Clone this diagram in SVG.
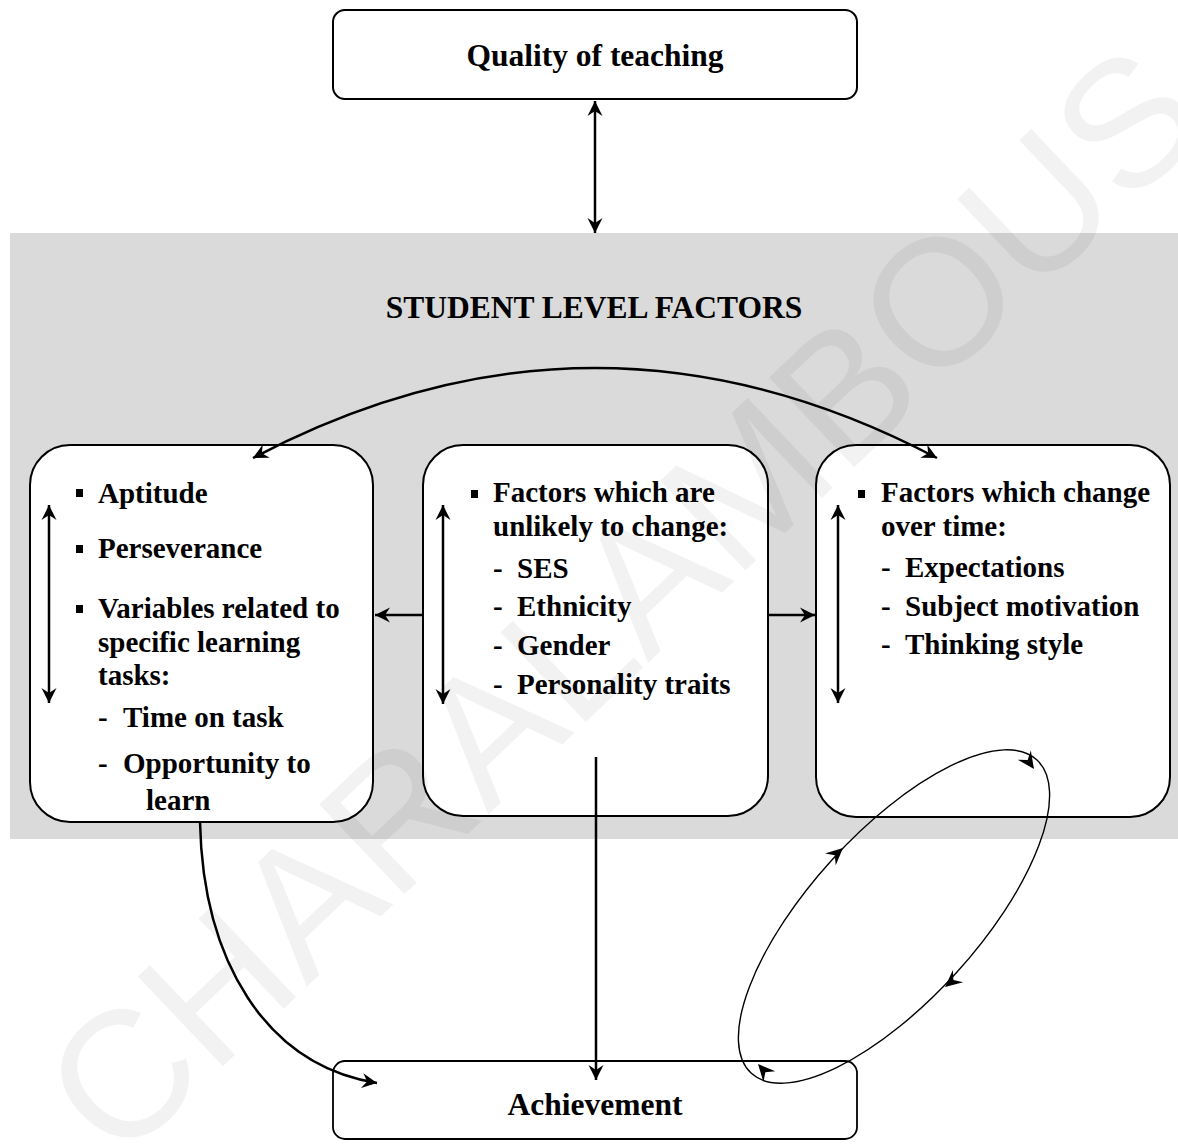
<svg xmlns="http://www.w3.org/2000/svg" width="1178" height="1146" viewBox="0 0 1178 1146">
<style>
.box{fill:#fff;stroke:#000;stroke-width:2}
.t{font-family:"Liberation Serif","Times New Roman",serif;font-weight:bold;fill:#000}
.title{font-size:31.5px}
.body{font-size:29px}
.ln{fill:none;stroke:#000;stroke-width:2.5}
.thin{fill:none;stroke:#000;stroke-width:1.4}
.wm{font-family:"Liberation Sans",Arial,sans-serif;font-size:180px;fill:#000;fill-opacity:0.05}
</style>
<defs>
<marker id="ah" viewBox="-17 -10 19 20" refX="0" refY="0" markerWidth="19" markerHeight="20" markerUnits="userSpaceOnUse" orient="auto-start-reverse">
<path d="M0,0 L-15,-7.5 L-10,0 L-15,7.5 Z" fill="#000"/>
</marker>
<path id="sa" d="M0,0 L-17,-8 L-11,0 L-17,8 Z" fill="#000"/>
</defs>
<rect x="0" y="0" width="1178" height="1146" fill="#fff"/>
<rect x="10" y="233" width="1168" height="606" fill="#dadada"/>
<text class="t title" x="594" y="318" text-anchor="middle">STUDENT LEVEL FACTORS</text>

<g id="quality">
<rect class="box" x="333" y="10" width="524" height="89" rx="12"/>
<text class="t title" x="595" y="66" text-anchor="middle">Quality of teaching</text>
</g>

<g id="left-box">
<rect class="box" x="30" y="445" width="343" height="377" rx="40"/>
<rect x="76" y="489" width="7" height="8"/>
<rect x="76" y="545" width="7" height="8"/>
<rect x="76" y="605" width="7" height="8"/>
<text class="t body" x="98" y="503">Aptitude</text>
<text class="t body" x="98" y="558">Perseverance</text>
<text class="t body" x="98" y="618">Variables related to</text>
<text class="t body" x="98" y="652">specific learning</text>
<text class="t body" x="98" y="685">tasks:</text>
<text class="t body" x="98" y="727">-</text>
<text class="t body" x="123" y="727">Time on task</text>
<text class="t body" x="98" y="773">-</text>
<text class="t body" x="123" y="773">Opportunity to</text>
<text class="t body" x="146" y="810">learn</text>
</g>

<g id="middle-box">
<rect class="box" x="423" y="445" width="345" height="371" rx="40"/>
<rect x="471" y="490" width="7" height="8"/>
<text class="t body" x="493" y="502">Factors which are</text>
<text class="t body" x="493" y="536">unlikely to change:</text>
<text class="t body" x="493" y="578">-</text>
<text class="t body" x="517" y="578">SES</text>
<text class="t body" x="493" y="616">-</text>
<text class="t body" x="517" y="616">Ethnicity</text>
<text class="t body" x="493" y="655">-</text>
<text class="t body" x="517" y="655">Gender</text>
<text class="t body" x="493" y="694">-</text>
<text class="t body" x="517" y="694">Personality traits</text>
</g>

<g id="right-box">
<rect class="box" x="816" y="445" width="354" height="372" rx="40"/>
<rect x="858" y="490" width="7" height="8"/>
<text class="t body" x="881" y="502">Factors which change</text>
<text class="t body" x="881" y="536">over time:</text>
<text class="t body" x="881" y="577">-</text>
<text class="t body" x="905" y="577">Expectations</text>
<text class="t body" x="881" y="616">-</text>
<text class="t body" x="905" y="616">Subject motivation</text>
<text class="t body" x="881" y="654">-</text>
<text class="t body" x="905" y="654">Thinking style</text>
</g>

<g id="achievement">
<rect class="box" x="333" y="1061" width="524" height="78" rx="12" style="stroke-width:1.8"/>
<text class="t title" x="595" y="1115" text-anchor="middle">Achievement</text>
</g>

<g id="connectors">
<path class="ln" d="M595,101 L595,233" marker-start="url(#ah)" marker-end="url(#ah)"/>
<path class="ln" d="M253,458 Q595,278 937,458" marker-start="url(#ah)" marker-end="url(#ah)"/>
<path class="ln" d="M49,505 L49,703" marker-start="url(#ah)" marker-end="url(#ah)"/>
<path class="ln" d="M443,505 L443,704" marker-start="url(#ah)" marker-end="url(#ah)"/>
<path class="ln" d="M838,505 L838,703" marker-start="url(#ah)" marker-end="url(#ah)"/>
<path class="ln" d="M423,615 L375,615" marker-end="url(#ah)"/>
<path class="ln" d="M768,615 L815,615" marker-end="url(#ah)"/>
<path class="ln" d="M596,757 L596,1080" marker-end="url(#ah)"/>
<path class="ln" d="M200,822 C203,960 265,1065 377,1083" marker-end="url(#ah)"/>
<ellipse class="thin" cx="894" cy="916.5" rx="212" ry="84" transform="rotate(-47.7 894 916.5)"/>
<use href="#sa" transform="translate(1034,769) rotate(55)"/>
<use href="#sa" transform="translate(843,848) rotate(-42)"/>
<use href="#sa" transform="translate(945,987) rotate(140)"/>
<use href="#sa" transform="translate(758,1064) rotate(-132)"/>
</g>

<text class="wm" transform="translate(118,1166) rotate(-43.5)">CHARALAMBOUS</text>
</svg>
